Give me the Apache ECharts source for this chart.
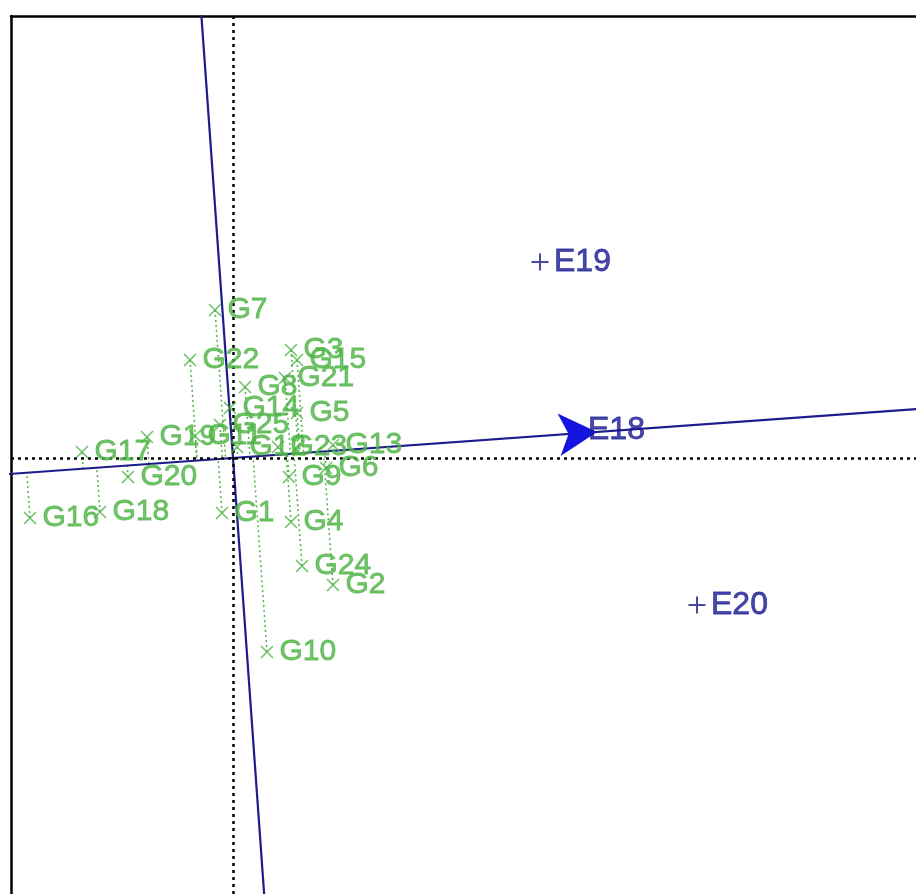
<!DOCTYPE html>
<html>
<head>
<meta charset="utf-8" />
<title>Mean vs. stability biplot</title>
<script src="https://cdn.jsdelivr.net/npm/echarts@6/dist/echarts.min.js"></script>
<style>html, body { margin: 0; padding: 0; background: #fff; }</style>
</head>
<body>
<div id="chart" style="width: 916px; height: 894px"></div>
<script type="text/javascript">
// Genotype scores (PC1, PC2)
const genotypes = ['G1', 'G2', 'G3', 'G4', 'G5', 'G6', 'G7', 'G8', 'G9', 'G10',
  'G11', 'G12', 'G13', 'G14', 'G15', 'G16', 'G17', 'G18', 'G19', 'G20',
  'G21', 'G22', 'G23', 'G24', 'G25'];
const genoPC1 = [-0.11, 1.00, 0.58, 0.58, 0.64, 0.93, -0.18, 0.12, 0.56, 0.34,
  -0.38, 0.04, 1.00, -0.03, 0.64, -2.03, -1.51, -1.33, -0.86, -1.05,
  0.52, -0.43, 0.45, 0.69, -0.13];
const genoPC2 = [-0.55, -1.27, 1.08, -0.64, 0.45, -0.10, 1.48, 0.71, -0.19, -1.94,
  0.22, 0.11, 0.13, 0.50, 0.98, -0.60, 0.06, -0.54, 0.21, -0.19,
  0.80, 0.98, 0.11, -1.08, 0.33];

// Environment scores; E18 marks the average-environment axis
const envs = ['E18', 'E19', 'E20'];
const envPC1 = [3.64, 3.07, 4.64];
const envPC2 = [0.26, 1.96, -1.47];

// Plot window
const xMin = -2.22, xMax = 6.83;
const yMin = -4.36, yMax = 4.42;

const green = '#4fb446';
const navy = '#1c1c8a';
const envText = '#1a1a94';
const font = 'Liberation Sans, Arial, sans-serif';

// Average environment axis direction (origin -> E18)
const len = Math.hypot(envPC1[0], envPC2[0]);
const ux = envPC1[0] / len, uy = envPC2[0] / len;

const aeaLine = [[-4 * ux, -4 * uy], [9 * ux, 9 * uy]];
const perpLine = [[6 * uy, -6 * ux], [-6 * uy, 6 * ux]];

// Projections of genotypes on the AEA
const projections = genotypes.map((g, i) => {
  const t = genoPC1[i] * ux + genoPC2[i] * uy;
  return { coords: [[genoPC1[i], genoPC2[i]], [t * ux, t * uy]] };
});

const chart = echarts.init(document.getElementById('chart'));

chart.setOption({
  animation: false,
  grid: { left: 11, top: 16, right: 0, bottom: 0 },
  xAxis: {
    type: 'value', min: xMin, max: xMax, position: 'top',
    axisLine: { show: true, onZero: false, lineStyle: { color: '#000', width: 2.5 } },
    axisTick: { show: false }, axisLabel: { show: false }, splitLine: { show: false }
  },
  yAxis: {
    type: 'value', min: yMin, max: yMax, position: 'left',
    axisLine: { show: true, onZero: false, lineStyle: { color: '#000', width: 2.5 } },
    axisTick: { show: false }, axisLabel: { show: false }, splitLine: { show: false }
  },
  series: [
    {
      // dotted zero axes
      type: 'line', data: [], z: 1,
      markLine: {
        silent: true, symbol: 'none', label: { show: false },
        lineStyle: { color: '#000', width: 2.5, type: [3, 4] },
        data: [{ yAxis: 0 }, { xAxis: 0 }]
      }
    },
    {
      type: 'lines', coordinateSystem: 'cartesian2d', z: 2,
      lineStyle: { color: green, width: 1.5, type: [2, 3], opacity: 1 },
      data: projections
    },
    {
      type: 'line', data: aeaLine, symbol: 'none', z: 3,
      lineStyle: { color: navy, width: 2.2 }
    },
    {
      type: 'line', data: perpLine, symbol: 'none', z: 3,
      lineStyle: { color: navy, width: 2.2 }
    },
    {
      // arrow on the average environment axis
      type: 'line', data: [], z: 4,
      markLine: {
        silent: true, label: { show: false },
        symbol: ['none', 'arrow'], symbolSize: [32, 38],
        lineStyle: { color: '#1414e0', width: 0 },
        itemStyle: { color: '#1414e0' },
        data: [[{ coord: [0, 0] }, { coord: [envPC1[0], envPC2[0]] }]]
      }
    },
    {
      type: 'scatter', z: 5,
      symbol: 'path://M0,0L10,10M10,0L0,10', symbolSize: 12,
      itemStyle: { color: 'none', borderColor: green, borderWidth: 1.6 },
      label: {
        show: true, position: 'right', distance: 4,
        formatter: (p) => p.name,
        color: green, fontSize: 30, fontFamily: font,
        textBorderColor: green, textBorderWidth: 0.8
      },
      data: genotypes.map((g, i) => ({ name: g, value: [genoPC1[i], genoPC2[i]] }))
    },
    {
      type: 'scatter', z: 6,
      symbol: 'path://M5,0V10M0,5H10', symbolSize: 17,
      itemStyle: { color: 'none', borderColor: navy, borderWidth: 2 },
      label: {
        show: true, position: 'right', distance: 3,
        formatter: (p) => p.name,
        color: envText, fontSize: 32, fontFamily: font,
        textBorderColor: envText, textBorderWidth: 0.8
      },
      data: envs.map((e, i) => ({
        name: e, value: [envPC1[i], envPC2[i]],
        symbolSize: i === 0 ? 0 : 17,
        label: i === 0 ? { offset: [-12, -2] } : undefined
      }))
    }
  ]
});
</script>
</body>
</html>
